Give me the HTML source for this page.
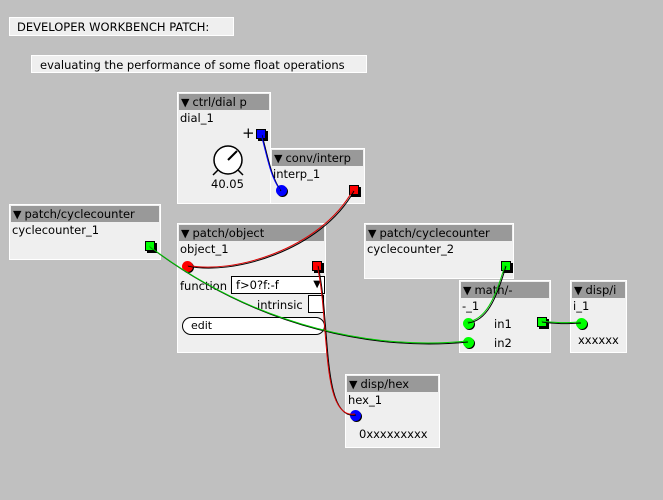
<!DOCTYPE html>
<html><head><meta charset="utf-8"><style>
*{box-sizing:border-box;margin:0;padding:0}
body{width:663px;height:500px;background:#c0c0c0;position:relative;overflow:hidden;font-family:"DejaVu Sans","Liberation Sans",sans-serif;font-size:11px;color:#000}
.c{position:absolute;background:#efefef;border:1px solid #fff}
.b{position:absolute;background:#efefef;border:1px solid #fff}
.h{position:absolute;left:1px;right:1px;top:1px;height:16px;background:#999;padding-left:2px;line-height:16px;font-size:11.5px;white-space:nowrap;overflow:hidden}
.h:before{content:"\25BC";font-size:11px;margin-right:3px}
.n{position:absolute;left:2px;top:18px;font-size:11.5px;white-space:nowrap}
.t{position:absolute;font-size:11.5px;white-space:nowrap}
.sq{position:absolute;width:10px;height:10px;border:1px solid #000;box-shadow:2px 2px 0 #000}
.dot{position:absolute;width:11px;height:11px;border-radius:50%;box-shadow:1px 1px 0 #000}
svg{position:absolute;left:0;top:0}
</style></head><body>
<div class="c" style="left:9px;top:17px;width:225px;height:19px"><span class="t" style="left:7px;top:2px">DEVELOPER WORKBENCH PATCH:</span></div>
<div class="c" style="left:31px;top:55px;width:336px;height:18px"><span class="t" style="left:8px;top:2px">evaluating the performance of some float operations</span></div>

<div class="b" style="left:177px;top:92px;width:94px;height:112px">
<div class="h">ctrl/dial p</div><div class="n">dial_1</div>
<span class="t" style="left:64px;top:31px;font-size:15px">+</span>
<div class="sq" style="left:78px;top:36px;background:#00f"></div>
<svg width="94" height="112" style="left:0;top:0"><circle cx="50" cy="67" r="14" fill="#fff" stroke="#000" stroke-width="1.5"/><line x1="50" y1="67" x2="59" y2="58" stroke="#000" stroke-width="2"/><line x1="40" y1="77" x2="35" y2="82" stroke="#000" stroke-width="1.5"/><line x1="60" y1="77" x2="65" y2="82" stroke="#000" stroke-width="1.5"/></svg>
<span class="t" style="left:33px;top:84px">40.05</span>
</div>
<div class="b" style="left:270px;top:148px;width:95px;height:56px">
<div class="h">conv/interp</div><div class="n">interp_1</div>
<div class="dot" style="left:5px;top:36px;background:#00f"></div>
<div class="sq" style="left:78px;top:36px;background:#f00"></div>
</div>

<div class="b" style="left:9px;top:204px;width:152px;height:56px">
<div class="h">patch/cyclecounter</div><div class="n">cyclecounter_1</div>
<div class="sq" style="left:135px;top:36px;background:#0f0"></div>
</div>

<div class="b" style="left:177px;top:223px;width:149px;height:130px">
<div class="h">patch/object</div><div class="n">object_1</div>
<div class="dot" style="left:4px;top:37px;background:#f00"></div>
<div class="sq" style="left:134px;top:37px;background:#f00"></div>
<span class="t" style="left:2px;top:55px">function</span>
<div style="position:absolute;left:53px;top:52px;width:94px;height:18px;background:#fff;border:1px solid #000;padding-left:4px;line-height:16px;font-size:11.5px">f&gt;0?f:-f<span style="position:absolute;right:3px;top:0;font-size:10px">&#9660;</span></div>
<span class="t" style="left:79px;top:74px">intrinsic</span>
<div style="position:absolute;left:130px;top:71px;width:16px;height:18px;background:#fff;border:1px solid #000"></div>
<div style="position:absolute;left:4px;top:93px;width:143px;height:18px;background:#fff;border:1px solid #000;border-radius:9px;padding-left:8px;line-height:16px">edit</div>
</div>

<div class="b" style="left:364px;top:223px;width:150px;height:56px">
<div class="h">patch/cyclecounter</div><div class="n">cyclecounter_2</div>
<div class="sq" style="left:136px;top:37px;background:#0f0"></div>
</div>

<div class="b" style="left:459px;top:280px;width:92px;height:73px">
<div class="h">math/-</div><div class="n">-_1</div>
<div class="dot" style="left:3px;top:37px;background:#0f0"></div>
<span class="t" style="left:34px;top:36px">in1</span>
<div class="sq" style="left:77px;top:36px;background:#0f0"></div>
<div class="dot" style="left:3px;top:56px;background:#0f0"></div>
<span class="t" style="left:34px;top:55px">in2</span>
</div>

<div class="b" style="left:570px;top:280px;width:57px;height:73px">
<div class="h">disp/i</div><div class="n">i_1</div>
<div class="dot" style="left:5px;top:37px;background:#0f0"></div>
<span class="t" style="left:7px;top:52px">xxxxxx</span>
</div>

<div class="b" style="left:345px;top:374px;width:95px;height:74px">
<div class="h">disp/hex</div><div class="n">hex_1</div>
<div class="dot" style="left:4px;top:35px;background:#00f"></div>
<span class="t" style="left:13px;top:52px">0xxxxxxxxx</span>
</div>

<svg width="663" height="500">
<g fill="none" stroke="#000" stroke-width="1" transform="translate(1,1)">
<path d="M261,134 C268,160 270,175 280,190"/>
<path d="M353,190 C320,250 230,275 187,265"/>
<path d="M149,246 C260,330 380,350 467,341"/>
<path d="M505,265 C495,300 485,320 467,322"/>
<path d="M317,265 C330,320 320,420 355,414"/>
<path d="M541,321 C555,323 565,323 580,322"/>
</g>
<g fill="none" stroke-width="1">
<path d="M261,134 C268,160 270,175 280,190" stroke="#00f"/>
<path d="M353,190 C320,250 230,275 187,265" stroke="#d00"/>
<path d="M149,246 C260,330 380,350 467,341" stroke="#0c0"/>
<path d="M505,265 C495,300 485,320 467,322" stroke="#0c0"/>
<path d="M317,265 C330,320 320,420 355,414" stroke="#d00"/>
<path d="M541,321 C555,323 565,323 580,322" stroke="#0c0"/>
</g>
</svg>
</body></html>
